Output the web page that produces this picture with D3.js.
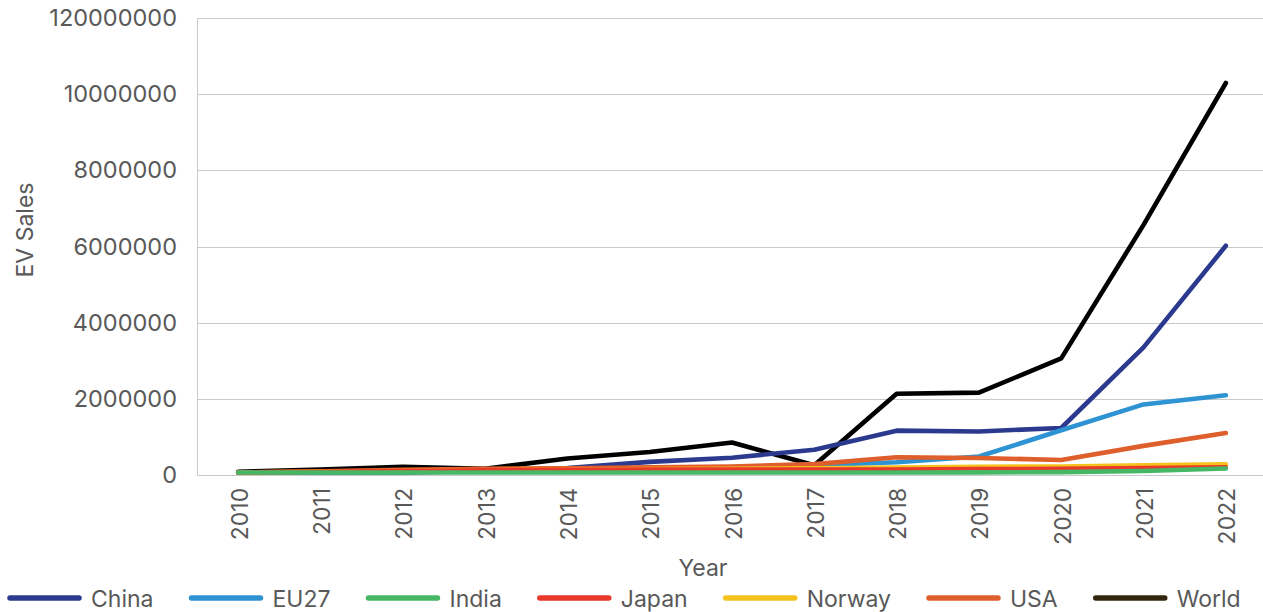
<!DOCTYPE html>
<html>
<head>
<meta charset="utf-8">
<script src="https://cdn.jsdelivr.net/npm/d3@7"></script>
<style>
  html, body { margin: 0; padding: 0; background: #fff; }
  svg { display: block; }
  text { font-family: Inter, Roboto, "Noto Sans", sans-serif; fill: #595959; }
</style>
</head>
<body>
<svg id="chart" width="1263" height="612"></svg>
<script>
// EV sales by market, 2010–2022
const years = ["2010","2011","2012","2013","2014","2015","2016","2017","2018","2019","2020","2021","2022"];

const china  = [60000, 60000, 65000, 100000, 180000, 340000, 450000, 660000, 1160000, 1140000, 1230000, 3350000, 6020000];
const eu27   = [60000, 60000, 70000, 100000, 130000, 180000, 200000, 250000, 330000, 480000, 1170000, 1850000, 2090000];
const india  = [60000, 60000, 60000, 60000, 60000, 60000, 60000, 60000, 60000, 65000, 70000, 100000, 165000];
const japan  = [60000, 80000, 100000, 120000, 130000, 140000, 140000, 140000, 140000, 150000, 155000, 180000, 200000];
const norway = [60000, 80000, 100000, 120000, 130000, 150000, 160000, 170000, 190000, 210000, 220000, 250000, 275000];
const usa    = [60000, 90000, 130000, 160000, 170000, 200000, 220000, 280000, 460000, 440000, 390000, 760000, 1100000];
const world  = [80000, 140000, 210000, 160000, 430000, 600000, 850000, 250000, 2130000, 2160000, 3060000, 6570000, 10300000];

const seriesNames  = ["China", "EU27", "India", "Japan", "Norway", "USA", "World"];
const seriesValues = [china, eu27, india, japan, norway, usa, world];
const lineColors   = ["#2b3a8f", "#2e93d3", "#46b865", "#e8392b", "#f5c11d", "#de5f2b", "#000000"];
const swatchColors = ["#2b3a8f", "#2e93d3", "#46b865", "#e8392b", "#f5c11d", "#de5f2b", "#33280f"];
// painting order of the lines (index into seriesNames), bottom first
const paintOrder = [6, 0, 1, 5, 4, 3, 2];

const yTickValues = [0, 2000000, 4000000, 6000000, 8000000, 10000000, 12000000];
const yTickLabels = ["0", "2000000", "4000000", "6000000", "8000000", "10000000", "120000000"];

const svg = d3.select("#chart");
const W = 1263;
const plotLeft = 197, plotRight = 1267, plotTop = 18.3, plotBottom = 474.8;
const FONT = "Inter, Roboto, 'Noto Sans', sans-serif";

const x = d3.scalePoint().domain(years).range([plotLeft, plotRight]).padding(0.5);
const y = d3.scaleLinear().domain([0, 12000000]).range([plotBottom, plotTop]);

// horizontal gridlines
svg.append("g")
  .selectAll("line")
  .data(yTickValues)
  .join("line")
  .attr("x1", plotLeft).attr("x2", W)
  .attr("y1", d => Math.round(y(d)) + 0.5)
  .attr("y2", d => Math.round(y(d)) + 0.5)
  .attr("stroke", "#c9c9c9")
  .attr("stroke-width", 1);

// vertical axis line
svg.append("line")
  .attr("x1", plotLeft + 0.5).attr("x2", plotLeft + 0.5)
  .attr("y1", y(12000000)).attr("y2", y(0))
  .attr("stroke", "#c9c9c9");

// y axis labels
const yAxis = d3.axisLeft(y)
  .tickValues(yTickValues)
  .tickFormat((d, i) => yTickLabels[i])
  .tickSize(0)
  .tickPadding(20);
const gy = svg.append("g").attr("transform", `translate(${plotLeft},0)`).call(yAxis);
gy.select(".domain").remove();
gy.selectAll("text")
  .attr("font-size", 23.5)
  .attr("fill", "#595959")
  .style("font-family", FONT);

// x axis labels, rotated
const xAxis = d3.axisBottom(x).tickSize(0).tickPadding(0);
const gx = svg.append("g").attr("transform", `translate(0,${plotBottom})`).call(xAxis);
gx.select(".domain").remove();
gx.selectAll("text")
  .attr("font-size", 23)
  .attr("fill", "#595959")
  .style("font-family", FONT)
  .attr("text-anchor", "end")
  .attr("dy", null)
  .attr("y", 0)
  .attr("transform", "translate(9,13) rotate(-90)");

// axis titles
svg.append("text")
  .attr("x", 703).attr("y", 576)
  .attr("text-anchor", "middle")
  .attr("font-size", 23)
  .text("Year");

svg.append("text")
  .attr("transform", "translate(33,230) rotate(-90)")
  .attr("text-anchor", "middle")
  .attr("font-size", 23)
  .text("EV Sales");

// series lines
const line = d3.line()
  .x((d, i) => x(years[i]))
  .y(d => y(d));

svg.append("g")
  .selectAll("path")
  .data(paintOrder)
  .join("path")
  .attr("d", i => line(seriesValues[i]))
  .attr("fill", "none")
  .attr("stroke", i => lineColors[i])
  .attr("stroke-width", 4.6)
  .attr("stroke-linejoin", "round")
  .attr("stroke-linecap", "round");

// legend
const legend = svg.append("g").attr("transform", "translate(0,598)");
let cx = 8;
seriesNames.forEach((name, i) => {
  const g = legend.append("g").attr("transform", `translate(${cx},0)`);
  g.append("line")
    .attr("x1", 2).attr("x2", 71)
    .attr("y1", 0).attr("y2", 0)
    .attr("stroke", swatchColors[i])
    .attr("stroke-width", 5.5)
    .attr("stroke-linecap", "round");
  const t = g.append("text")
    .attr("x", 83).attr("y", 9)
    .attr("font-size", 23)
    .text(name);
  cx += 83 + t.node().getComputedTextLength() + 36;
});
</script>
</body>
</html>
